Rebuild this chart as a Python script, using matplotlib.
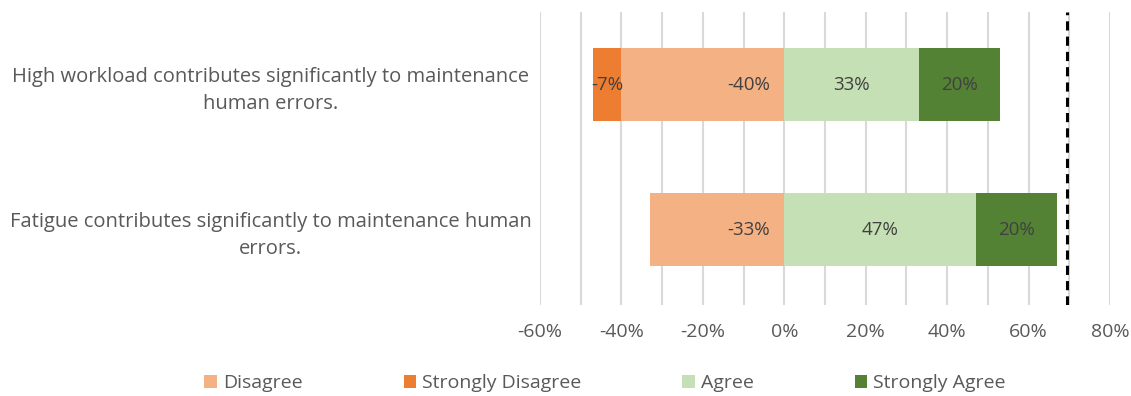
import numpy as np
import matplotlib
matplotlib.use("Agg")
import matplotlib.pyplot as plt

# --------------------------------------------------------------------------- #
# Data (percent of respondents)
# --------------------------------------------------------------------------- #
statements = [
    "High workload contributes significantly to maintenance\nhuman errors.",
    "Fatigue contributes significantly to maintenance human\nerrors.",
]
disagree = [-40, -33]
strongly_disagree = [-7, 0]
agree = [33, 47]
strongly_agree = [20, 20]
ref_line = 69.5

x_ticks = [-60, -40, -20, 0, 20, 40, 60, 80]

C_DIS = "#F4B183"
C_SDIS = "#ED7D31"
C_AGR = "#C5E0B4"
C_SAGR = "#548235"
TXT = "#595959"
LBL = "#404040"

plt.rcParams["font.family"] = ["Open Sans", "DejaVu Sans"]

fig = plt.figure(figsize=(11.31, 3.96), dpi=100)
ax = fig.add_axes([540 / 1131, 1 - 305 / 396, 570 / 1131, 293 / 396])

y = np.array([1, 0])
h = 0.5
dis = np.array(disagree)
sdis = np.array(strongly_disagree)
agr = np.array(agree)
sagr = np.array(strongly_agree)

ax.barh(y, dis, height=h, color=C_DIS, label="Disagree", zorder=3)
ax.barh(y, sdis, left=dis, height=h, color=C_SDIS, label="Strongly Disagree", zorder=3)
ax.barh(y, agr, height=h, color=C_AGR, label="Agree", zorder=3)
ax.barh(y, sagr, left=agr, height=h, color=C_SAGR, label="Strongly Agree", zorder=3)

fs = 13.5
for i, yy in enumerate(y):
    # disagree labels sit near the zero line
    ax.text(-3.5, yy, f"{dis[i]}%", ha="right", va="center", color=LBL, fontsize=fs, zorder=4)
    if sdis[i] != 0:
        ax.text(dis[i] + sdis[i] / 2, yy, f"{sdis[i]}%", ha="center", va="center",
                color=LBL, fontsize=fs, zorder=4)
    ax.text(agr[i] / 2, yy, f"{agr[i]}%", ha="center", va="center", color=LBL, fontsize=fs, zorder=4)
    ax.text(agr[i] + sagr[i] / 2, yy, f"{sagr[i]}%", ha="center", va="center",
            color=LBL, fontsize=fs, zorder=4)

ax.axvline(ref_line, color="black", ls=(0, (3, 2)), lw=2.2, zorder=5)

ax.set_xlim(-60, 80)
ax.set_ylim(-0.52, 1.5)
ax.xaxis.grid(True, color="#D9D9D9", lw=1.5, zorder=0)
ax.set_xticks(np.arange(-60, 81, 10))
ax.set_xticklabels([f"{v}%" if v in x_ticks else "" for v in np.arange(-60, 81, 10)])
ax.tick_params(axis="x", length=0, labelsize=14, labelcolor=TXT, pad=13)

ax.set_yticks(y)
ax.set_yticklabels(statements)
ax.tick_params(axis="y", length=0, labelsize=14.5, labelcolor=TXT, pad=194)
for t in ax.get_yticklabels():
    t.set_ha("center")
    t.set_multialignment("center")
    t.set_linespacing(1.45)

for s in ax.spines.values():
    s.set_visible(False)

fig.legend(loc="lower center", bbox_to_anchor=(0.535, -0.035), ncol=4, frameon=False,
           fontsize=14, labelcolor=TXT, handlelength=0.65, handleheight=0.65,
           handletextpad=0.3, columnspacing=5.2)

fig.savefig("out.png", dpi=100)
